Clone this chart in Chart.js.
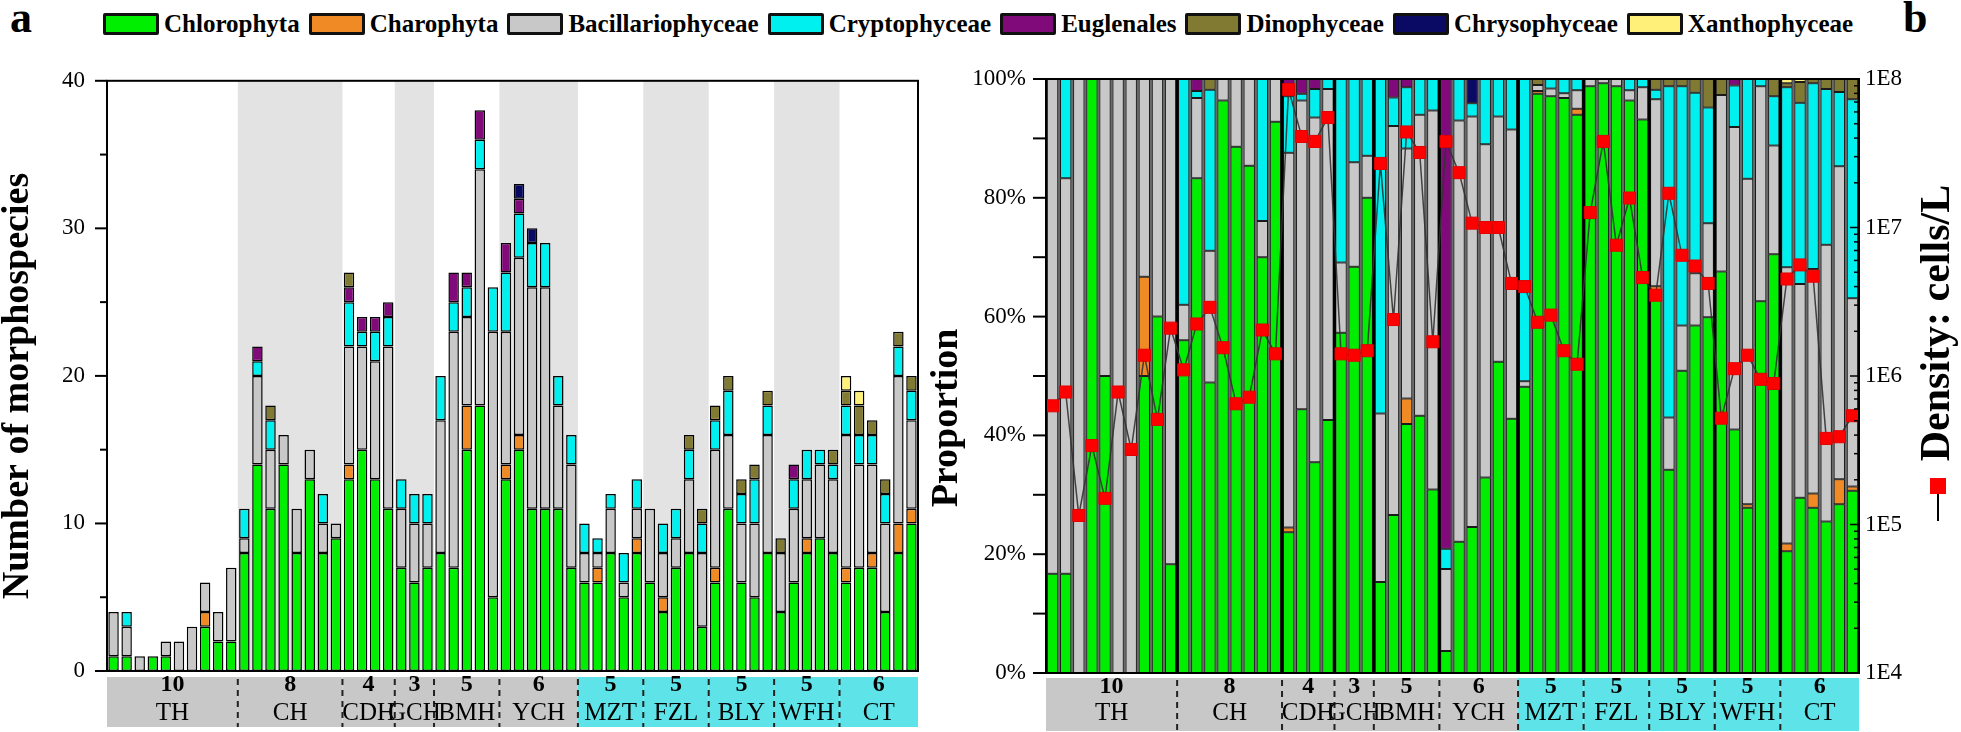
<!DOCTYPE html>
<html><head><meta charset="utf-8">
<script src="https://cdn.jsdelivr.net/npm/chart.js@4/dist/chart.umd.min.js"></script>
<style>
html,body{margin:0;padding:0;background:#fff;}
body{width:1961px;height:732px;position:relative;overflow:hidden;font-family:"Liberation Serif",serif;}
#legend{position:absolute;left:103px;top:9px;display:flex;align-items:center;gap:9px;}
.item{display:flex;align-items:center;}
.sw{width:50px;height:16px;border:3px solid #111;border-radius:2px;margin-right:5px;}
.lt{font:bold 25px "Liberation Serif";color:#000;line-height:30px;white-space:nowrap;}
.pl{position:absolute;top:-4px;font:bold 44px "Liberation Serif";line-height:44px;color:#000;}
canvas{position:absolute;}
</style></head><body>
<div class="pl" style="left:10px">a</div>
<div class="pl" style="left:1903px">b</div>
<div id="legend"></div>
<canvas id="ca" width="920" height="687" style="left:0;top:45px"></canvas>
<canvas id="cb" width="1041" height="687" style="left:920px;top:45px"></canvas>
<script>
// ---------------- DATA ----------------
const groups = ['TH','CH','CDH','GCH','BMH','YCH','MZT','FZL','BLY','WFH','CT'];
const groupSizes = [10,8,4,3,5,6,5,5,5,5,6];
const taxa = ['Chlorophyta','Charophyta','Bacillariophyceae','Cryptophyceae','Euglenales','Dinophyceae','Chrysophyceae','Xanthophyceae'];

// Panel a: number of morphospecies per sample
const chlA = [1,1,0,1,1,0,0,3,2,2, 8,14,11,14,8,13,8,9, 13,15,13,11, 7,6,7, 8,7,15,18,5, 13,15,11,11,11,7, 6,6,8,5,8, 6,4,7,8,3, 6,11,6,5,8, 4,6,8,9,8, 6,7,7,4,8,10];
const chaA = [0,0,0,0,0,0,0,1,0,0, 0,0,0,0,0,0,0,0, 1,0,0,0, 0,0,0, 0,0,3,0,0, 1,1,0,0,0,0, 0,1,0,0,1, 0,1,0,0,0, 1,0,0,0,0, 0,0,1,0,0, 1,0,1,0,2,1];
const bacA = [3,2,1,0,1,2,3,2,2,5, 1,6,4,2,3,2,2,1, 8,7,8,11, 4,4,3, 9,16,6,16,18, 9,12,15,15,7,7, 2,1,3,1,2, 5,3,2,5,5, 8,5,4,5,8, 4,5,4,5,5, 9,7,6,6,10,6];
const cryA = [0,1,0,0,0,0,0,0,0,0, 2,1,2,0,0,0,2,0, 3,1,2,2, 2,2,2, 3,2,2,2,3, 4,3,3,3,2,2, 2,1,1,2,2, 0,2,2,2,2, 2,3,2,3,2, 0,2,2,1,1, 2,2,2,2,2,2];
const eugA = [0,0,0,0,0,0,0,0,0,0, 0,1,0,0,0,0,0,0, 1,1,1,1, 0,0,0, 0,2,1,2,0, 2,1,0,0,0,0, 0,0,0,0,0, 0,0,0,0,0, 0,0,0,0,0, 0,1,0,0,0, 0,0,0,0,0,0];
const dinA = [0,0,0,0,0,0,0,0,0,0, 0,0,1,0,0,0,0,0, 1,0,0,0, 0,0,0, 0,0,0,0,0, 0,0,0,0,0,0, 0,0,0,0,0, 0,0,0,1,1, 1,1,1,1,1, 1,0,0,0,1, 1,2,1,1,1,1];
const chrA = [0,0,0,0,0,0,0,0,0,0, 0,0,0,0,0,0,0,0, 0,0,0,0, 0,0,0, 0,0,0,0,0, 0,1,1,0,0,0, 0,0,0,0,0, 0,0,0,0,0, 0,0,0,0,0, 0,0,0,0,0, 0,0,0,0,0,0];
const xanA = [0,0,0,0,0,0,0,0,0,0, 0,0,0,0,0,0,0,0, 0,0,0,0, 0,0,0, 0,0,0,0,0, 0,0,0,0,0,0, 0,0,0,0,0, 0,0,0,0,0, 0,0,0,0,0, 0,0,0,0,0, 1,1,0,0,0,0];

// Panel b: proportion of density (%)
const chlB = [16.7,16.7,0,100,50,0,0,50,60,18.3, 56,83.3,48.9,96.4,88.6,85.4,70,92.8, 23.7,44.4,35.5,42.6, 57.3,68.4,80, 15.3,26.6,41.9,43.3,30.9, 3.7,22.1,24.6,32.9,52.4,42.8, 48.2,97.5,97.1,96.8,94, 98.8,99.3,98.8,96.4,93.2, 62.9,34.2,50.9,58.5,59.9, 67.6,41,27.8,62.6,70.5, 20.5,29.5,27.8,25.5,28.4,30.7];
const chaB = [0,0,0,0,0,0,0,16.7,0,0, 0,0,0,0,0,0,0,0, 0.8,0,0,0, 0,0,0, 0,0,4.3,0,0, 0,0,0,0,0,0, 0,0.5,0,0,1.0, 0,0,0,0,0, 2.2,0,0,0,0, 0,0,0.6,0,0, 1.3,0,2.4,0,4.2,0.7];
const bacB = [83.3,66.6,100,0,50,100,100,33.3,40,81.7, 6,13.5,22.2,3.6,11.4,14.6,6.1,7.2, 63.1,52,58,55.7, 11.8,17.6,7.1, 28.4,65.5,42.1,50.7,63.8, 13.8,70.9,69.1,56.1,41.3,48.7, 0.9,1,1.3,0.8,3.1, 1.2,0.7,1.2,1.7,5.4, 31.5,8.8,7.6,8.8,15.8, 29.7,50.9,54.8,36.2,18.3, 46.5,36,37.8,46.6,52.7,31.7];
const cryB = [0,16.7,0,0,0,0,0,0,0,0, 38,1.2,27.1,0,0,0,23.9,0, 9.5,1.1,4.8,1.7, 30.9,14,12.9, 56.3,4.8,10.3,6,5.3, 3.4,7,2.2,11,6.3,8.5, 50.9,0,1.6,2.4,1.9, 0,0,0,1.9,1.4, 1.6,55.8,40.3,30.4,19.5, 0,7,16.8,1.2,8.3, 30.3,30.5,31.3,26.2,12.5,33.5];
const eugB = [0,0,0,0,0,0,0,0,0,0, 0,2,0,0,0,0,0,0, 2.9,2.5,1.7,0, 0,0,0, 0,3.1,1.4,0,0, 79.1,0,0,0,0,0, 0,0,0,0,0, 0,0,0,0,0, 0,0,0,0,0, 0,1.1,0,0,0, 0,0,0,0,0,0];
const dinB = [0,0,0,0,0,0,0,0,0,0, 0,0,1.8,0,0,0,0,0, 0,0,0,0, 0,0,0, 0,0,0,0,0, 0,0,0,0,0,0, 0,1,0,0,0, 0,0,0,0,0, 1.8,1.2,1.2,2.3,4.8, 2.7,0,0,0,2.9, 0.7,3.5,0.7,1.7,2.2,3.4];
const chrB = [0,0,0,0,0,0,0,0,0,0, 0,0,0,0,0,0,0,0, 0,0,0,0, 0,0,0, 0,0,0,0,0, 0,0,4.1,0,0,0, 0,0,0,0,0, 0,0,0,0,0, 0,0,0,0,0, 0,0,0,0,0, 0,0,0,0,0,0];
const xanB = [0,0,0,0,0,0,0,0,0,0, 0,0,0,0,0,0,0,0, 0,0,0,0, 0,0,0, 0,0,0,0,0, 0,0,0,0,0,0, 0,0,0,0,0, 0,0,0,0,0, 0,0,0,0,0, 0,0,0,0,0, 0.7,0.5,0,0,0,0];

// Density (cells/L)
const density = [6.3e5,7.8e5,1.15e5,3.4e5,1.5e5,7.8e5,3.2e5,1.38e6,5.1e5,2.1e6,
  1.1e6,2.24e6,2.9e6,1.55e6,6.5e5,7.2e5,2.04e6,1.41e6,
  8.5e7,4.1e7,3.8e7,5.5e7,
  1.41e6,1.38e6,1.48e6,
  2.7e7,2.4e6,4.4e7,3.2e7,1.7e6,
  3.8e7,2.34e7,1.07e7,1.0e7,1.0e7,4.2e6,
  4.0e6,2.3e6,2.57e6,1.48e6,1.2e6,
  1.26e7,3.8e7,7.6e6,1.58e7,4.6e6,
  3.5e6,1.7e7,6.5e6,5.5e6,4.2e6,
  5.2e5,1.12e6,1.38e6,9.5e5,8.9e5,
  4.5e6,5.6e6,4.7e6,3.8e5,3.9e5,5.4e5];

const countTicks = [0,5,10,15,20,25,30,35,40];
const propTicks = [0,10,20,30,40,50,60,70,80,90,100];
const densityExps = [4,5,6,7,8];

// ---------------- STYLE ----------------
const colors = ['#00ee00','#f08a24','#c8c8c8','#00f0f0','#800a7a','#807a32','#0a0a64','#fff07a'];
const SERIF = 'Liberation Serif';

// legend (HTML text)
const lg = document.getElementById('legend');
taxa.forEach((t,i)=>{
  const it=document.createElement('div'); it.className='item';
  const sw=document.createElement('div'); sw.className='sw'; sw.style.background=colors[i];
  const tx=document.createElement('span'); tx.className='lt'; tx.textContent=t;
  it.appendChild(sw); it.appendChild(tx); lg.appendChild(it);
});

const labels = [];
groups.forEach((g,gi)=>{ for(let k=0;k<groupSizes[gi];k++) labels.push(g+'-'+(k+1)); });

function groupBounds(chart){
  const xs = chart.scales.x;
  const slot = xs.getPixelForValue(1) - xs.getPixelForValue(0);
  let s=0; const out=[];
  groupSizes.forEach((n,g)=>{
    out.push({x0: xs.getPixelForValue(s)-slot/2, x1: xs.getPixelForValue(s+n-1)+slot/2, g});
    s+=n;
  });
  return out;
}
function drawBand(chart, y0, y1, numY, nameY){
  const ctx=chart.ctx, b=groupBounds(chart);
  ctx.save();
  b.forEach(({x0,x1,g})=>{ ctx.fillStyle = g<6 ? '#c8c8c8' : '#5ee4e8'; ctx.fillRect(x0,y0,x1-x0,y1-y0); });
  ctx.strokeStyle='#222'; ctx.lineWidth=2; ctx.setLineDash([6,5]);
  b.slice(1).forEach(({x0})=>{ ctx.beginPath(); ctx.moveTo(x0,y0+2); ctx.lineTo(x0,y1); ctx.stroke(); });
  ctx.setLineDash([]);
  ctx.fillStyle='#000'; ctx.textAlign='center'; ctx.textBaseline='middle';
  b.forEach(({x0,x1,g})=>{
    const cx=(x0+x1)/2;
    ctx.font='bold 24px "'+SERIF+'"'; ctx.fillText(String(groupSizes[g]), cx, numY);
    ctx.font='25px "'+SERIF+'"'; ctx.fillText(groups[g], cx, nameY);
  });
  ctx.restore();
}
function drawBox(chart){
  const a=chart.chartArea, ctx=chart.ctx;
  ctx.save(); ctx.strokeStyle='#000'; ctx.lineWidth=2;
  ctx.strokeRect(a.left, a.top, a.right-a.left, a.bottom-a.top);
  ctx.restore();
}
function drawLeftTicks(chart, id, isMajor, majL, minL){
  const s=chart.scales[id], ctx=chart.ctx, x=chart.chartArea.left;
  ctx.save(); ctx.strokeStyle='#000'; ctx.lineWidth=2;
  s.ticks.forEach(t=>{ const y=s.getPixelForValue(t.value); const L=isMajor(t.value)?majL:minL;
    ctx.beginPath(); ctx.moveTo(x-L,y); ctx.lineTo(x,y); ctx.stroke(); });
  ctx.restore();
}
function vTitle(ctx, text, x, y, size){
  ctx.save(); ctx.translate(x,y); ctx.rotate(-Math.PI/2);
  ctx.font='bold '+size+'px "'+SERIF+'"'; ctx.fillStyle='#000'; ctx.textAlign='center'; ctx.textBaseline='middle';
  ctx.fillText(text,0,0); ctx.restore();
}

// ---------------- PANEL A ----------------
const dataA = [chlA,chaA,bacA,cryA,eugA,dinA,chrA,xanA];
const plugA = {
  id:'pa',
  beforeDatasetsDraw(chart){
    const a=chart.chartArea, ctx=chart.ctx;
    ctx.save(); ctx.fillStyle='#e3e3e3';
    groupBounds(chart).forEach(({x0,x1,g})=>{ if(g%2===1) ctx.fillRect(x0,a.top,x1-x0,a.bottom-a.top); });
    ctx.restore();
  },
  afterDraw(chart){
    drawBox(chart);
    drawLeftTicks(chart,'y',v=>v%10===0,12,7);
    drawBand(chart, 632, 682, 640, 668);
    vTitle(chart.ctx,'Number of morphospecies',18,341,38);
  }
};
new Chart(document.getElementById('ca'),{
  type:'bar',
  data:{labels, datasets: dataA.map((d,i)=>({label:taxa[i], data:d.map(v=>v||null), backgroundColor:colors[i],
    borderColor:'#000', borderWidth:1.5, borderSkipped:false, barPercentage:0.8, categoryPercentage:1}))},
  options:{
    responsive:false, animation:false, devicePixelRatio:1,
    layout:{padding:{left:0,right:2,top:34,bottom:61}},
    plugins:{legend:{display:false}, tooltip:{enabled:false}},
    scales:{
      x:{stacked:true, display:false},
      y:{stacked:true, min:0, max:40,
        afterBuildTicks:s=>{ s.ticks = countTicks.map(v=>({value:v})); },
        afterFit:s=>{ s.width=107; },
        grid:{display:false, drawTicks:false, tickLength:0}, border:{display:false},
        ticks:{autoSkip:false, padding:22, color:'#000', font:{family:SERIF,size:23},
          callback:v=> v%10===0 ? String(v) : ''}}
    }
  },
  plugins:[plugA]
});

// ---------------- PANEL B ----------------
const dataB = [chlB,chaB,bacB,cryB,eugB,dinB,chrB,xanB];
const plugB = {
  id:'pb',
  beforeDatasetsDraw(chart){
    const a=chart.chartArea, ctx=chart.ctx;
    ctx.save(); ctx.fillStyle='#6a6a6a'; ctx.fillRect(a.left,a.top,a.right-a.left,a.bottom-a.top); ctx.restore();
  },
  beforeDatasetDraw(chart,args){
    if(args.meta.type!=='line') return;
    const a=chart.chartArea, ctx=chart.ctx;
    ctx.save(); ctx.strokeStyle='#000'; ctx.lineWidth=3;
    groupBounds(chart).slice(1).forEach(({x0})=>{ ctx.beginPath(); ctx.moveTo(x0,a.top); ctx.lineTo(x0,a.bottom); ctx.stroke(); });
    ctx.restore();
  },
  afterDraw(chart){
    const a=chart.chartArea, ctx=chart.ctx;
    drawBox(chart);
    drawLeftTicks(chart,'y',v=>true,13,13);
    // inward ticks on right log axis
    const s=chart.scales.yd;
    ctx.save(); ctx.strokeStyle='#000'; ctx.lineWidth=1.5;
    s.ticks.forEach(t=>{ const y=s.getPixelForValue(t.value);
      const e=Math.log10(t.value); const L = Math.abs(e-Math.round(e))<1e-9 ? 9 : 5;
      ctx.beginPath(); ctx.moveTo(a.right-L,y); ctx.lineTo(a.right,y); ctx.stroke(); });
    ctx.restore();
    drawBand(chart, 633, 686, 642, 668);
    vTitle(ctx,'Proportion',27,373,38);
    // right title with series symbol
    vTitle(ctx,'Density: cells/L',1018,278,42);
    ctx.save();
    ctx.strokeStyle='#000'; ctx.lineWidth=2;
    ctx.beginPath(); ctx.moveTo(1018,441); ctx.lineTo(1018,476); ctx.stroke();
    ctx.fillStyle='#ff0000'; ctx.fillRect(1010,433,16,16);
    ctx.restore();
  }
};
const logTicks = [];
densityExps.forEach(e=>{ if(e<8){ for(let m=1;m<10;m++) logTicks.push(m*Math.pow(10,e)); } else logTicks.push(Math.pow(10,e)); });

const dsB = dataB.map((d,i)=>({type:'bar', label:taxa[i], data:d.map(v=>v||null), backgroundColor:colors[i],
  borderColor:'#1a1a1a', borderWidth:1, borderSkipped:false, barPercentage:0.86, categoryPercentage:1, yAxisID:'y', order:1}));
dsB.push({type:'line', label:'Density', data:density, yAxisID:'yd', order:0,
  borderColor:'rgba(50,50,50,0.9)', borderWidth:1.5, tension:0,
  pointStyle:'rect', pointRadius:8.5, pointBackgroundColor:'#ff0000', pointBorderColor:'#e00000', pointBorderWidth:1});

new Chart(document.getElementById('cb'),{
  type:'bar',
  data:{labels, datasets:dsB},
  options:{
    responsive:false, animation:false, devicePixelRatio:1,
    layout:{padding:{left:0,right:0,top:34,bottom:59}},
    plugins:{legend:{display:false}, tooltip:{enabled:false}},
    scales:{
      x:{stacked:true, display:false},
      y:{stacked:true, min:0, max:100, position:'left',
        afterBuildTicks:s=>{ s.ticks = propTicks.map(v=>({value:v})); },
        afterFit:s=>{ s.width=126; },
        grid:{display:false, drawTicks:false, tickLength:0}, border:{display:false},
        ticks:{autoSkip:false, padding:20, color:'#000', font:{family:SERIF,size:23},
          callback:v=> v%20===0 ? v+'%' : ''}},
      yd:{type:'logarithmic', position:'right', min:1e4, max:1e8,
        afterBuildTicks:s=>{ s.ticks = logTicks.map(v=>({value:v})); },
        afterFit:s=>{ s.width=102; },
        grid:{display:false, drawTicks:false, tickLength:0}, border:{display:false},
        ticks:{autoSkip:false, padding:6, color:'#000', font:{family:SERIF,size:23},
          callback:v=>{ const e=Math.log10(v); return Math.abs(e-Math.round(e))<1e-9 ? '1E'+Math.round(e) : ''; }}}
    }
  },
  plugins:[plugB]
});
</script>
</body></html>
